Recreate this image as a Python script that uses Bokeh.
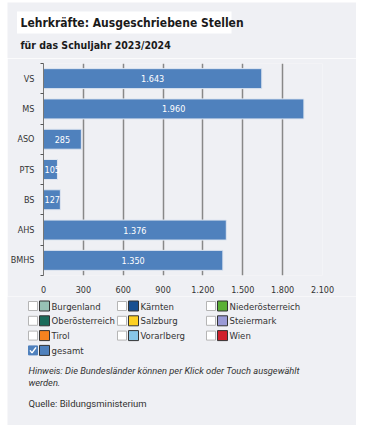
from bokeh.plotting import figure
from bokeh.models import Range1d, FixedTicker, ColumnDataSource
from bokeh.layouts import column, row
from bokeh.embed import file_html
from bokeh.resources import INLINE
from bokeh.core.properties import value

# ---- data ----
categories = ["VS", "MS", "ASO", "PTS", "BS", "AHS", "BMHS"]
stellen = [1643, 1960, 285, 105, 127, 1376, 1350]
x_ticks = [0, 300, 600, 900, 1200, 1500, 1800, 2100]
laender = ["Burgenland", "Kärnten", "Niederösterreich",
           "Oberösterreich", "Salzburg", "Steiermark",
           "Tirol", "Vorarlberg", "Wien", "gesamt"]
laender_colors = ["#97c1b5", "#174f91", "#5bb035",
                  "#1a6b5a", "#fdd022", "#9a9ad6",
                  "#f5821f", "#87c6e8", "#d0202b", "#4f81bd"]
checked = [False] * 9 + [True]

title = "Lehrkräfte: Ausgeschriebene Stellen"
subtitle = "für das Schuljahr 2023/2024"
hinweis = ["Hinweis: Die Bundesländer können per Klick oder Touch ausgewählt", "werden."]
quelle = "Quelle: Bildungsministerium"

BG = "#eff0f4"
BAR = "#4f81bd"
COND = "DejaVu Sans Condensed"
X0, X1 = 7, 356
W = X1 - X0


def de(n):
    return f"{n:,}".replace(",", ".")


def blank(y0, y1):
    f = figure(width=W, height=y1 - y0, x_range=Range1d(X0, X1), y_range=Range1d(y1, y0),
               output_backend="svg", toolbar_location=None,
               x_axis_type=None, y_axis_type=None, min_border=0)
    f.background_fill_color = BG
    f.border_fill_color = BG
    f.outline_line_color = None
    f.xgrid.visible = False
    f.ygrid.visible = False
    return f


# ---- title block ----
top = blank(2, 58)
top.quad(left=[16.5], right=[231], top=[11], bottom=[33], fill_color="white", line_color=None)
top.text(x=[20], y=[22.5], text=[title], text_font=value(COND), text_font_style="bold",
         text_font_size="12px", text_baseline="middle", text_color="#1a1a1a")
top.text(x=[20], y=[44], text=[subtitle], text_font=value(COND), text_font_style="bold",
         text_font_size="10.5px", text_baseline="middle", text_color="#1a1a1a")

# ---- main chart ----
idx = list(range(len(categories)))
p = figure(width=W, height=238, x_range=Range1d(0, 2100),
           y_range=Range1d(len(categories) - 0.5, -0.5),
           output_backend="svg", toolbar_location=None,
           min_border_left=35, min_border_right=34, min_border_top=5, min_border_bottom=21)
p.background_fill_color = BG
p.border_fill_color = BG
p.outline_line_color = None

src = ColumnDataSource(dict(y=idx, v=stellen))
p.hbar(y="y", right="v", left=0, height=0.66, source=src,
       fill_color=BAR, line_color="#dfe6f0", line_width=1)

big = [i for i, v in enumerate(stellen) if v >= 200]
small = [i for i, v in enumerate(stellen) if v < 200]
src_big = ColumnDataSource(dict(y=[idx[i] for i in big], x=[stellen[i] / 2 for i in big],
                                t=[de(stellen[i]) for i in big]))
src_small = ColumnDataSource(dict(y=[idx[i] for i in small], x=[0 for i in small],
                                  t=[de(stellen[i]) for i in small]))
p.text(x="x", y="y", text="t", source=src_big, text_align="center", text_baseline="middle",
       text_color="white", text_font=value(COND), text_font_size="9px")
p.text(x="x", y="y", text="t", source=src_small, text_align="left", text_baseline="middle",
       x_offset=1, text_color="white", text_font=value(COND), text_font_size="9px")

p.xaxis.ticker = FixedTicker(ticks=x_ticks)
p.xaxis.major_label_overrides = {t: de(t) for t in x_ticks}
p.xaxis.axis_line_color = None
p.xaxis.major_tick_line_color = None
p.xaxis.minor_tick_line_color = None
p.xaxis.major_label_text_font = COND
p.xaxis.major_label_text_font_size = "9px"
p.xaxis.major_label_text_color = "#333333"
p.xaxis.major_label_standoff = 4

p.yaxis.ticker = FixedTicker(ticks=idx, minor_ticks=[i - 0.5 for i in idx] + [len(idx) - 0.5])
p.yaxis.major_label_overrides = {i: c for i, c in zip(idx, categories)}
p.yaxis.major_tick_out = 0
p.yaxis.major_tick_in = 0
p.yaxis.minor_tick_out = 3
p.yaxis.minor_tick_in = 0
p.yaxis.minor_tick_line_color = "#555555"
p.yaxis.axis_line_color = "#777777"
p.yaxis.major_label_text_font = COND
p.yaxis.major_label_text_font_size = "9px"
p.yaxis.major_label_text_color = "#333333"
p.yaxis.major_label_standoff = 6

p.xgrid.ticker = FixedTicker(ticks=x_ticks)
p.xgrid.grid_line_color = "#888888"
p.xgrid.grid_line_width = 1.5
p.ygrid.visible = False

# ---- legend + notes ----
bot = blank(296, 425)
col_x = [28, 117, 206]
row_y0, row_dy = 305.5, 14.8
cx, cy, sx, tx = [], [], [], []
for i, name in enumerate(laender):
    r, c = divmod(i, 3)
    cx.append(col_x[c] + 4.5)
    cy.append(row_y0 + r * row_dy)
    sx.append(col_x[c] + 16)
    tx.append(col_x[c] + 23)
leg = ColumnDataSource(dict(cx=cx, cy=cy, sx=sx, tx=tx, name=laender, color=laender_colors,
                            box=[BAR if ch else "white" for ch in checked],
                            boxline=[BAR if ch else "#b5b5b5" for ch in checked]))
bot.rect(x="cx", y="cy", width=9, height=9, source=leg, fill_color="box", line_color="boxline",
         line_width=1)
bot.rect(x="sx", y="cy", width=10, height=10, source=leg, fill_color="color", line_color="#333333",
         line_width=1)
bot.text(x="tx", y="cy", text="name", source=leg, text_baseline="middle", text_font=value(COND),
         text_font_size="9.5px", text_color="#333333")
chk_x = [[c - 3, c - 1, c + 3] for c, ch in zip(cx, checked) if ch]
chk_y = [[y, y + 2.5, y - 3] for y, ch in zip(cy, checked) if ch]
bot.multi_line(xs=chk_x, ys=chk_y, line_color="white", line_width=1.5)

bot.text(x=[28, 28], y=[370, 382], text=hinweis, text_baseline="middle",
         text_font=value("Roboto"), text_font_style="italic", text_font_size="9.3px",
         text_color="#333333")
bot.text(x=[28], y=[403], text=[quelle], text_baseline="middle",
         text_font=value("Roboto"), text_font_size="9.5px", text_color="#333333")

layout = column(row(top), p, row(bot), spacing=0, margin=(2, 0, 0, 7))
open("out.html", "w").write(file_html(layout, INLINE))
